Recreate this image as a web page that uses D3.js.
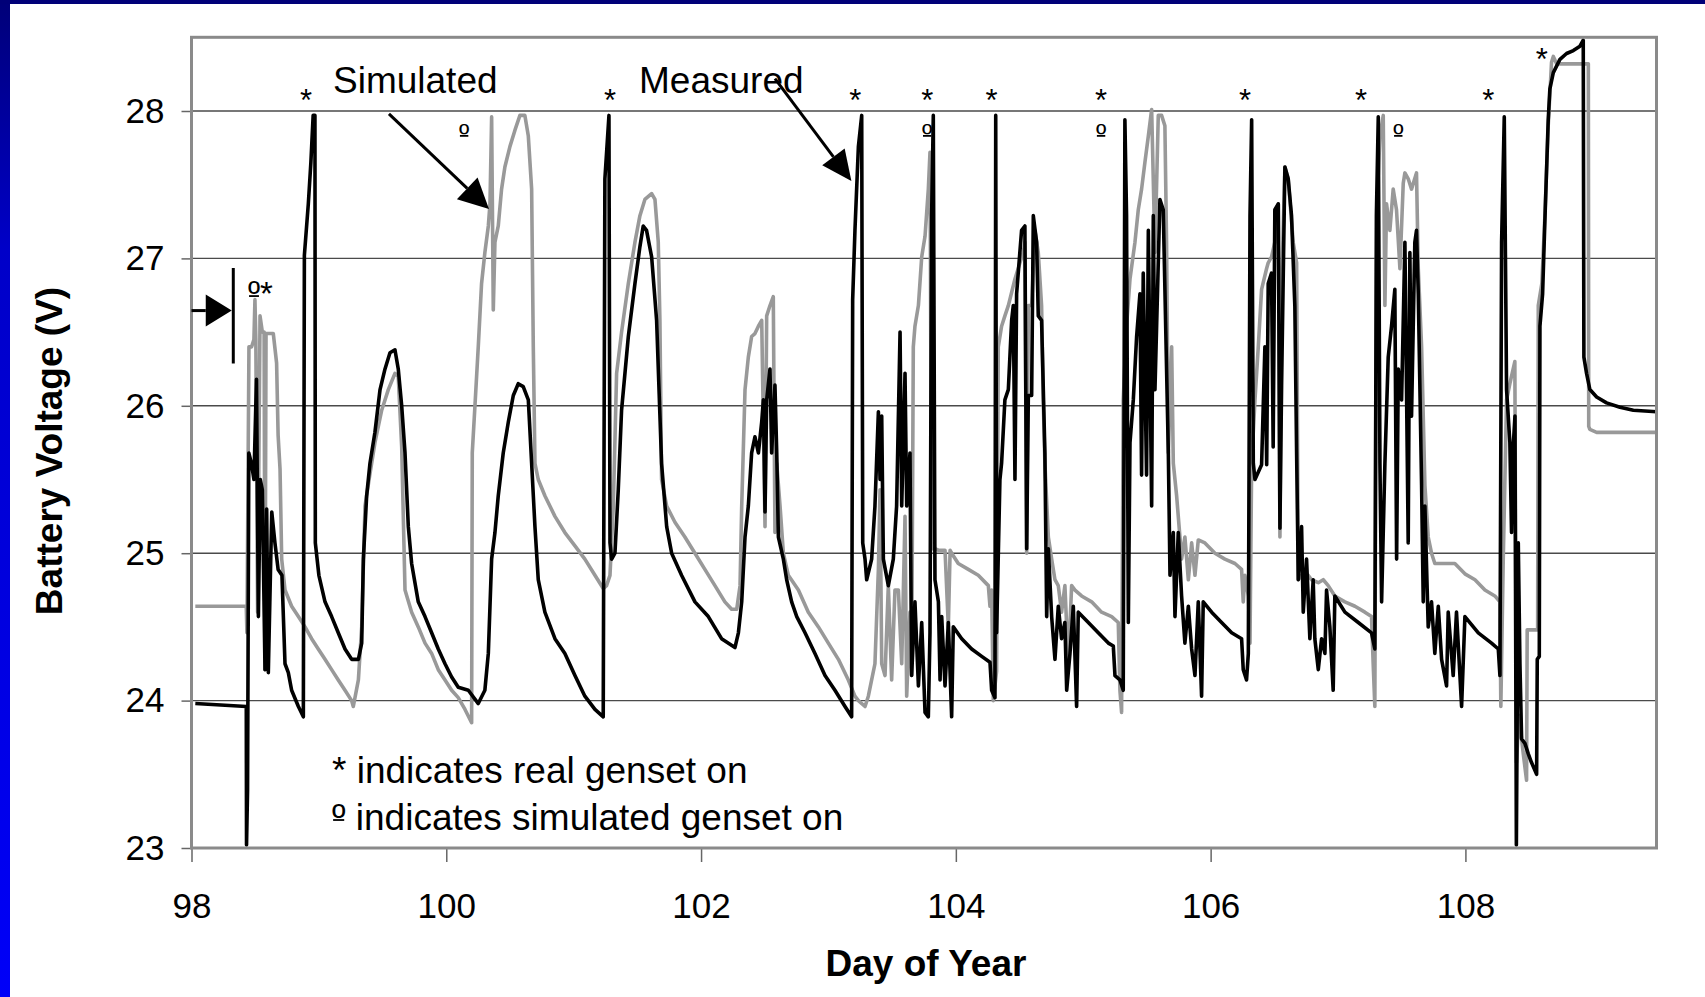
<!DOCTYPE html>
<html>
<head>
<meta charset="utf-8">
<script src="https://cdn.jsdelivr.net/npm/d3@7/dist/d3.min.js"></script>
<style>
body { margin: 0; background: #fff; }
svg text { font-family: "Liberation Sans", Arial, sans-serif; }
</style>
</head>
<body>
<svg id="chart" width="1705" height="997"></svg>
<script>
// measured battery voltage, [day of year, volts]
var measured = [
    [98.03,23.98],[98.43,23.96],[98.432,23.02],[98.44,23.39],[98.45,25.68],[98.47,25.61],[98.49,25.5],[98.51,26.18],
    [98.525,24.57],[98.54,25.5],[98.556,25.43],[98.577,24.21],[98.59,25.3],[98.603,24.19],[98.63,25.28],[98.655,25.07],
    [98.68,24.89],[98.71,24.85],[98.734,24.25],[98.76,24.19],[98.786,24.07],[98.839,23.96],[98.878,23.89],[98.886,27.02],
    [98.917,27.37],[98.937,27.65],[98.955,27.97],[98.969,27.97],[98.972,25.07],[99.0,24.85],[99.048,24.67],[99.1,24.57],
    [99.152,24.46],[99.205,24.35],[99.257,24.28],[99.31,24.28],[99.336,24.39],[99.349,24.96],[99.375,25.39],[99.401,25.61],
    [99.44,25.82],[99.48,26.11],[99.519,26.25],[99.558,26.36],[99.597,26.38],[99.623,26.25],[99.65,26.0],[99.676,25.68],
    [99.702,25.18],[99.728,24.93],[99.78,24.67],[99.833,24.57],[99.885,24.46],[99.937,24.35],[99.99,24.25],[100.042,24.16],
    [100.094,24.09],[100.173,24.07],[100.251,23.98],[100.303,24.07],[100.33,24.32],[100.356,24.96],[100.382,25.14],[100.408,25.39],
    [100.447,25.68],[100.487,25.89],[100.526,26.07],[100.565,26.15],[100.604,26.13],[100.644,26.04],[100.67,25.61],[100.696,25.18],
    [100.722,24.82],[100.774,24.6],[100.853,24.42],[100.931,24.32],[101.01,24.17],[101.088,24.03],[101.167,23.94],[101.232,23.89],
    [101.245,27.54],[101.277,27.97],[101.285,25.07],[101.298,24.96],[101.324,25.0],[101.35,25.43],[101.376,25.97],[101.429,26.47],
    [101.481,26.83],[101.52,27.08],[101.546,27.22],[101.572,27.19],[101.612,27.01],[101.651,26.58],[101.69,25.61],[101.73,25.18],
    [101.769,25.0],[101.847,24.85],[101.952,24.67],[102.057,24.57],[102.161,24.42],[102.266,24.36],[102.293,24.46],[102.319,24.67],
    [102.345,25.11],[102.371,25.32],[102.397,25.68],[102.423,25.79],[102.45,25.68],[102.476,25.89],[102.489,26.04],[102.502,25.28],
    [102.515,26.04],[102.541,26.25],[102.554,25.68],[102.58,26.14],[102.594,25.68],[102.607,25.11],[102.646,24.96],[102.672,24.82],
    [102.711,24.67],[102.751,24.57],[102.816,24.46],[102.894,24.32],[102.973,24.17],[103.051,24.07],[103.13,23.96],[103.182,23.89],
    [103.19,26.72],[103.208,27.19],[103.235,27.76],[103.261,27.97],[103.269,25.07],[103.287,24.96],[103.3,24.82],[103.339,24.96],
    [103.365,25.32],[103.392,25.96],[103.405,25.5],[103.418,25.93],[103.431,24.96],[103.47,24.78],[103.509,24.96],[103.535,25.32],
    [103.562,26.5],[103.575,25.32],[103.601,26.22],[103.614,25.32],[103.64,25.68],[103.653,24.17],[103.679,24.67],[103.706,24.1],
    [103.732,24.53],[103.758,23.92],[103.784,23.89],[103.797,24.46],[103.81,27.29],[103.823,27.97],[103.836,24.82],[103.863,24.67],
    [103.876,24.14],[103.889,24.57],[103.915,24.1],[103.941,24.53],[103.967,23.89],[103.98,24.5],[104.046,24.42],[104.124,24.35],
    [104.203,24.3],[104.268,24.26],[104.281,24.07],[104.307,24.02],[104.313,27.97],[104.32,24.46],[104.346,25.5],[104.359,25.61],
    [104.385,26.04],[104.412,26.11],[104.438,26.58],[104.451,26.68],[104.464,25.5],[104.477,26.76],[104.516,27.19],[104.542,27.22],
    [104.556,25.03],[104.569,26.07],[104.595,26.07],[104.608,27.29],[104.634,27.11],[104.647,26.61],[104.673,26.58],[104.699,25.68],
    [104.713,24.57],[104.726,25.03],[104.752,24.57],[104.778,24.28],[104.804,24.64],[104.83,24.42],[104.856,24.53],[104.87,24.07],
    [104.896,24.32],[104.922,24.64],[104.948,23.96],[104.961,24.6],[105.04,24.53],[105.118,24.46],[105.197,24.39],[105.236,24.37],
    [105.249,24.17],[105.288,24.14],[105.314,24.07],[105.327,27.94],[105.34,27.29],[105.354,24.53],[105.367,25.75],[105.393,26.04],
    [105.419,26.47],[105.445,26.76],[105.458,25.53],[105.471,26.9],[105.497,25.53],[105.511,27.19],[105.537,25.32],[105.55,27.29],
    [105.563,26.11],[105.602,27.4],[105.628,27.33],[105.668,25.68],[105.681,24.85],[105.707,25.14],[105.72,24.57],[105.746,25.14],
    [105.772,24.71],[105.798,24.39],[105.825,24.64],[105.851,24.35],[105.877,24.17],[105.903,24.67],[105.929,24.03],[105.942,24.67],
    [106.008,24.6],[106.086,24.53],[106.165,24.46],[106.243,24.42],[106.256,24.21],[106.282,24.14],[106.296,24.32],[106.309,27.29],
    [106.322,27.94],[106.335,25.61],[106.348,25.5],[106.4,25.6],[106.426,26.4],[106.44,25.6],[106.452,26.83],[106.478,26.9],
    [106.491,25.72],[106.504,27.33],[106.531,27.37],[106.544,25.17],[106.557,26.14],[106.583,27.62],[106.609,27.54],[106.635,27.29],
    [106.661,26.68],[106.675,25.68],[106.688,24.82],[106.714,25.18],[106.727,24.6],[106.753,24.96],[106.779,24.42],[106.805,24.82],
    [106.818,24.42],[106.845,24.21],[106.871,24.42],[106.897,24.32],[106.91,24.75],[106.936,24.5],[106.962,24.07],[106.975,24.71],
    [107.054,24.6],[107.159,24.53],[107.263,24.46],[107.289,24.35],[107.302,27.33],[107.316,27.96],[107.329,25.61],[107.342,24.67],
    [107.355,25.14],[107.368,25.61],[107.394,26.33],[107.42,26.54],[107.446,26.79],[107.46,24.96],[107.473,26.25],[107.499,26.04],
    [107.525,27.11],[107.551,25.07],[107.564,27.04],[107.577,25.93],[107.603,27.11],[107.616,27.19],[107.63,26.76],[107.656,25.46],
    [107.669,24.67],[107.682,25.32],[107.708,24.5],[107.734,24.67],[107.76,24.32],[107.787,24.64],[107.813,24.28],[107.852,24.1],
    [107.865,24.6],[107.904,24.17],[107.93,24.6],[107.97,23.96],[107.996,24.57],[108.101,24.46],[108.205,24.39],[108.258,24.35],
    [108.271,24.17],[108.284,27.11],[108.305,27.96],[108.323,26.11],[108.349,25.75],[108.362,25.14],[108.375,25.72],[108.389,25.93],
    [108.4,23.02],[108.415,25.07],[108.428,24.25],[108.441,23.74],[108.467,23.71],[108.493,23.64],[108.519,23.58],[108.559,23.5],
    [108.564,24.28],[108.58,24.3],[108.585,26.54],[108.606,26.76],[108.624,27.26],[108.65,27.94],[108.663,28.15],[108.69,28.26],
    [108.742,28.35],[108.794,28.39],[108.847,28.41],[108.899,28.44],[108.925,28.48],[108.93,26.33],[108.951,26.22],[108.977,26.11],
    [109.03,26.06],[109.108,26.02],[109.213,25.99],[109.318,25.97],[109.5,25.96]
];

// simulated battery voltage, [day of year, volts]
var simulated = [
    [98.03,24.64],[98.43,24.64],[98.435,24.46],[98.451,26.4],[98.472,26.4],[98.49,26.45],[98.498,26.72],[98.505,26.45],
    [98.519,24.6],[98.538,26.61],[98.556,26.5],[98.57,26.5],[98.577,24.21],[98.585,26.49],[98.642,26.49],[98.668,26.29],
    [98.68,25.8],[98.695,25.57],[98.708,24.96],[98.734,24.75],[98.786,24.64],[98.839,24.57],[98.891,24.5],[98.943,24.42],
    [98.995,24.35],[99.048,24.28],[99.1,24.21],[99.152,24.14],[99.205,24.07],[99.257,24.0],[99.27,23.96],[99.31,24.14],
    [99.336,24.5],[99.362,25.32],[99.401,25.54],[99.44,25.75],[99.493,25.97],[99.545,26.11],[99.597,26.22],[99.623,26.2],
    [99.65,25.72],[99.676,24.75],[99.728,24.6],[99.78,24.5],[99.833,24.39],[99.885,24.32],[99.937,24.21],[99.99,24.14],
    [100.042,24.07],[100.094,24.02],[100.147,23.94],[100.199,23.85],[100.204,25.68],[100.225,26.0],[100.251,26.4],[100.277,26.83],
    [100.303,27.04],[100.33,27.22],[100.343,27.37],[100.356,27.96],[100.369,26.65],[100.382,27.11],[100.408,27.22],[100.434,27.47],
    [100.46,27.62],[100.5,27.76],[100.539,27.87],[100.578,27.97],[100.617,27.97],[100.644,27.83],[100.67,27.47],[100.683,26.4],
    [100.696,25.61],[100.722,25.5],[100.774,25.39],[100.853,25.25],[100.931,25.14],[101.01,25.05],[101.088,24.96],[101.167,24.85],
    [101.232,24.76],[101.258,24.78],[101.285,24.85],[101.311,25.32],[101.337,26.22],[101.376,26.5],[101.429,26.83],[101.481,27.11],
    [101.52,27.29],[101.559,27.4],[101.612,27.44],[101.638,27.4],[101.664,27.11],[101.677,26.58],[101.69,25.5],[101.73,25.32],
    [101.795,25.21],[101.873,25.11],[101.952,25.0],[102.03,24.89],[102.109,24.78],[102.187,24.67],[102.24,24.62],[102.28,24.62],
    [102.306,24.78],[102.319,25.32],[102.345,26.11],[102.371,26.33],[102.397,26.47],[102.423,26.49],[102.45,26.54],[102.476,26.58],
    [102.502,25.18],[102.515,26.61],[102.541,26.68],[102.567,26.74],[102.58,25.14],[102.594,25.61],[102.62,25.32],[102.646,25.0],
    [102.685,24.85],[102.764,24.75],[102.842,24.6],[102.921,24.5],[102.999,24.39],[103.078,24.28],[103.156,24.14],[103.208,24.03],
    [103.235,24.0],[103.287,23.96],[103.313,24.03],[103.339,24.14],[103.365,24.25],[103.392,24.89],[103.405,25.43],[103.418,24.25],
    [103.444,24.17],[103.47,24.78],[103.496,24.14],[103.522,24.75],[103.549,24.75],[103.575,24.25],[103.601,25.25],[103.614,24.03],
    [103.64,24.6],[103.653,24.17],[103.666,26.4],[103.679,26.54],[103.706,26.68],[103.732,27.01],[103.758,27.15],[103.784,27.47],
    [103.797,27.72],[103.81,25.03],[103.836,25.03],[103.863,25.02],[103.915,25.02],[103.941,24.5],[103.955,25.02],[103.967,25.0],
    [104.019,24.93],[104.098,24.89],[104.176,24.85],[104.255,24.78],[104.268,24.64],[104.281,24.75],[104.294,24.0],[104.32,24.2],
    [104.333,26.4],[104.359,26.54],[104.385,26.61],[104.412,26.68],[104.464,26.86],[104.503,26.97],[104.529,27.04],[104.542,27.11],
    [104.556,25.0],[104.569,26.68],[104.595,26.68],[104.621,27.19],[104.647,27.04],[104.673,26.68],[104.686,26.04],[104.699,25.61],
    [104.726,25.11],[104.752,24.96],[104.778,24.82],[104.804,24.78],[104.83,24.6],[104.856,24.78],[104.883,24.25],[104.909,24.78],
    [104.935,24.75],[104.987,24.71],[105.066,24.67],[105.144,24.6],[105.223,24.57],[105.275,24.53],[105.288,24.07],[105.301,23.92],
    [105.314,26.04],[105.34,26.54],[105.367,26.86],[105.406,27.11],[105.432,27.33],[105.458,27.47],[105.484,27.65],[105.511,27.83],
    [105.537,28.01],[105.563,27.04],[105.589,27.97],[105.615,27.97],[105.641,27.9],[105.654,27.11],[105.668,25.68],[105.694,26.4],
    [105.707,25.61],[105.733,25.39],[105.759,25.11],[105.772,24.96],[105.798,25.11],[105.825,24.82],[105.851,25.07],[105.877,24.85],
    [105.903,25.09],[105.955,25.07],[106.034,25.0],[106.112,24.96],[106.191,24.93],[106.243,24.89],[106.256,24.67],[106.269,24.85],
    [106.296,24.71],[106.309,24.39],[106.322,25.61],[106.348,26.04],[106.374,26.4],[106.4,26.79],[106.439,26.93],[106.452,26.97],
    [106.478,27.01],[106.504,27.11],[106.531,27.37],[106.544,25.11],[106.557,26.79],[106.583,27.62],[106.609,27.54],[106.648,27.11],
    [106.675,26.97],[106.688,24.82],[106.714,24.85],[106.74,24.82],[106.766,24.85],[106.792,24.82],[106.845,24.8],[106.884,24.82],
    [106.923,24.78],[106.975,24.71],[107.054,24.67],[107.133,24.64],[107.211,24.6],[107.263,24.57],[107.276,24.25],[107.289,23.96],
    [107.302,27.29],[107.329,27.83],[107.355,27.97],[107.368,26.68],[107.381,27.37],[107.407,27.19],[107.433,27.47],[107.459,27.33],
    [107.486,26.93],[107.512,27.51],[107.525,27.58],[107.551,27.54],[107.577,27.47],[107.616,27.58],[107.63,26.93],[107.656,26.4],
    [107.682,25.46],[107.708,25.11],[107.734,25.0],[107.76,24.93],[107.813,24.93],[107.865,24.93],[107.917,24.93],[107.996,24.86],
    [108.075,24.82],[108.153,24.75],[108.231,24.71],[108.271,24.67],[108.278,23.96],[108.297,24.96],[108.323,26.04],[108.349,26.15],
    [108.375,26.25],[108.388,26.3],[108.401,23.58],[108.42,23.9],[108.454,23.64],[108.48,23.46],[108.485,24.48],[108.567,24.48],
    [108.572,26.68],[108.6,26.83],[108.624,27.29],[108.65,27.9],[108.676,28.33],[108.69,28.37],[108.716,28.32],[108.965,28.32],
    [108.968,25.86],[108.977,25.84],[109.03,25.82],[109.5,25.82]
];

var yTicks = [23, 24, 25, 26, 27, 28];
var xTicks = [98, 100, 102, 104, 106, 108];
var gridValues = [24, 25, 26, 27, 28];

// genset markers: [day, volts at text baseline]
var realGensetOn = [[98.90,28.0],[101.285,28.0],[103.21,28.0],[103.775,28.0],[104.28,28.0],
                    [105.14,28.0],[106.27,28.0],[107.18,28.0],[108.18,28.0],[108.60,28.275]];
var simGensetOn = [[100.14,27.78],[103.775,27.78],[105.14,27.78],[107.473,27.78]];

var FONT_TICK = 35;
var FONT_NOTE = 37;
var FONT_STAR = 31;
var FONT_ORD = 28;

var svg = d3.select("#chart");

// blue slide border
var defs = svg.append("defs");
var grad = defs.append("linearGradient").attr("id", "sideBlue")
    .attr("x1", 0).attr("y1", 0).attr("x2", 0).attr("y2", 1);
grad.append("stop").attr("offset", "0%").attr("stop-color", "#000078");
grad.append("stop").attr("offset", "25%").attr("stop-color", "#0000c8");
grad.append("stop").attr("offset", "100%").attr("stop-color", "#0000f8");
svg.append("rect").attr("x", 0).attr("y", 0).attr("width", 10).attr("height", 997).attr("fill", "url(#sideBlue)");
svg.append("rect").attr("x", 0).attr("y", 0).attr("width", 1705).attr("height", 4).attr("fill", "#000078");

var x = d3.scaleLinear().domain([98, 109.5]).range([191.5, 1656.5]);
var y = d3.scaleLinear().domain([23, 28.5]).range([848, 37.3]);

defs.append("clipPath").attr("id", "plotClip").append("rect")
    .attr("x", x(98)).attr("y", y(28.5))
    .attr("width", x(109.5) - x(98)).attr("height", y(23) - y(28.5));

// gridlines
svg.append("g").selectAll("line")
    .data(gridValues)
    .enter()
    .append("line")
    .attr("x1", x(98)).attr("x2", x(109.5))
    .attr("y1", function(d) { return y(d); })
    .attr("y2", function(d) { return y(d); })
    .attr("stroke", "#4a4a4a")
    .attr("stroke-width", 1.4);

// axes
var yAxis = svg.append("g")
    .attr("transform", "translate(" + x(98) + ",0)")
    .call(d3.axisLeft(y).tickValues(yTicks).tickSize(10).tickPadding(17).tickFormat(d3.format("d")));
var xAxis = svg.append("g")
    .attr("transform", "translate(0," + y(23) + ")")
    .call(d3.axisBottom(x).tickValues(xTicks).tickSize(14).tickPadding(31).tickFormat(d3.format("d")));
[yAxis, xAxis].forEach(function(ax) {
    ax.select(".domain").remove();
    ax.selectAll("line").attr("stroke", "#666").attr("stroke-width", 1.5);
    ax.selectAll("text").attr("font-size", FONT_TICK).attr("fill", "#000")
        .attr("font-family", "'Liberation Sans', Arial, sans-serif");
});

// series
var line = d3.line()
    .x(function(d) { return x(d[0]); })
    .y(function(d) { return y(d[1]); });

var plot = svg.append("g").attr("clip-path", "url(#plotClip)");
plot.append("path").datum(simulated)
    .attr("d", line).attr("fill", "none")
    .attr("stroke", "#999").attr("stroke-width", 3.6).attr("stroke-linejoin", "round");
plot.append("path").datum(measured)
    .attr("d", line).attr("fill", "none")
    .attr("stroke", "#000").attr("stroke-width", 3.6).attr("stroke-linejoin", "round");

// frame
svg.append("rect")
    .attr("x", x(98)).attr("y", y(28.5))
    .attr("width", x(109.5) - x(98)).attr("height", y(23) - y(28.5))
    .attr("fill", "none").attr("stroke", "#8a8a8a").attr("stroke-width", 3);

// short bar under an ordinal sign, centred on cx
function ordinalBar(cx, baseline, size) {
    svg.append("line")
        .attr("x1", cx - 0.15 * size).attr("x2", cx + 0.15 * size)
        .attr("y1", baseline - 0.27 * size).attr("y2", baseline - 0.27 * size)
        .attr("stroke", "#000").attr("stroke-width", 1.8);
}

// genset markers
svg.append("g").selectAll("text")
    .data(realGensetOn)
    .enter()
    .append("text")
    .attr("x", function(d) { return x(d[0]); })
    .attr("y", function(d) { return y(d[1]); })
    .attr("text-anchor", "middle")
    .attr("font-size", FONT_STAR)
    .text("*");
svg.append("g").selectAll("text")
    .data(simGensetOn)
    .enter()
    .append("text")
    .attr("x", function(d) { return x(d[0]); })
    .attr("y", function(d) { return y(d[1]); })
    .attr("text-anchor", "middle")
    .attr("font-size", FONT_ORD)
    .text("\u00BA");
simGensetOn.forEach(function(d) { ordinalBar(x(d[0]), y(d[1]), FONT_ORD); });

svg.append("text").attr("x", x(98.444)).attr("y", y(26.684))
    .attr("font-size", 33).text("\u00BA*");
ordinalBar(x(98.444) + 0.18 * 33, y(26.684), 33);

// labels with arrows
function arrow(x0, y0, x1, y1, len, half) {
    var dx = x1 - x0, dy = y1 - y0;
    var d = Math.sqrt(dx * dx + dy * dy);
    var ux = dx / d, uy = dy / d;
    var bx = x1 - ux * len, by = y1 - uy * len;
    svg.append("line").attr("x1", x0).attr("y1", y0).attr("x2", bx).attr("y2", by)
        .attr("stroke", "#000").attr("stroke-width", 3);
    svg.append("path")
        .attr("d", "M" + x1 + "," + y1 + "L" + (bx - uy * half) + "," + (by + ux * half) +
            "L" + (bx + uy * half) + "," + (by - ux * half) + "Z")
        .attr("fill", "#000");
}

svg.append("text").attr("x", 333).attr("y", 93).attr("font-size", FONT_NOTE).text("Simulated");
svg.append("text").attr("x", 639).attr("y", 93).attr("font-size", FONT_NOTE).text("Measured");
arrow(x(99.55), y(27.98), x(100.335), y(27.335), 30, 15);
arrow(x(102.58), y(28.22), x(103.18), y(27.525), 30, 14);

// start-of-run marker
arrow(x(98.0), y(26.646), x(98.316), y(26.646), 26, 16);
svg.append("line")
    .attr("x1", x(98.328)).attr("x2", x(98.328))
    .attr("y1", y(26.935)).attr("y2", y(26.287))
    .attr("stroke", "#000").attr("stroke-width", 3);

// legend notes
svg.append("text").attr("x", 332).attr("y", 783).attr("font-size", FONT_NOTE)
    .text("* indicates real genset on");
svg.append("text").attr("x", 332).attr("y", 830).attr("font-size", FONT_NOTE)
    .text("\u00BA indicates simulated genset on");
ordinalBar(332 + 0.18 * FONT_NOTE, 830, FONT_NOTE);

// axis titles
svg.append("text")
    .attr("transform", "translate(62,451) rotate(-90)")
    .attr("text-anchor", "middle")
    .attr("font-size", 37).attr("font-weight", "bold")
    .text("Battery Voltage (V)");
svg.append("text")
    .attr("x", 926).attr("y", 976)
    .attr("text-anchor", "middle")
    .attr("font-size", 37).attr("font-weight", "bold")
    .text("Day of Year");
</script>
</body>
</html>
